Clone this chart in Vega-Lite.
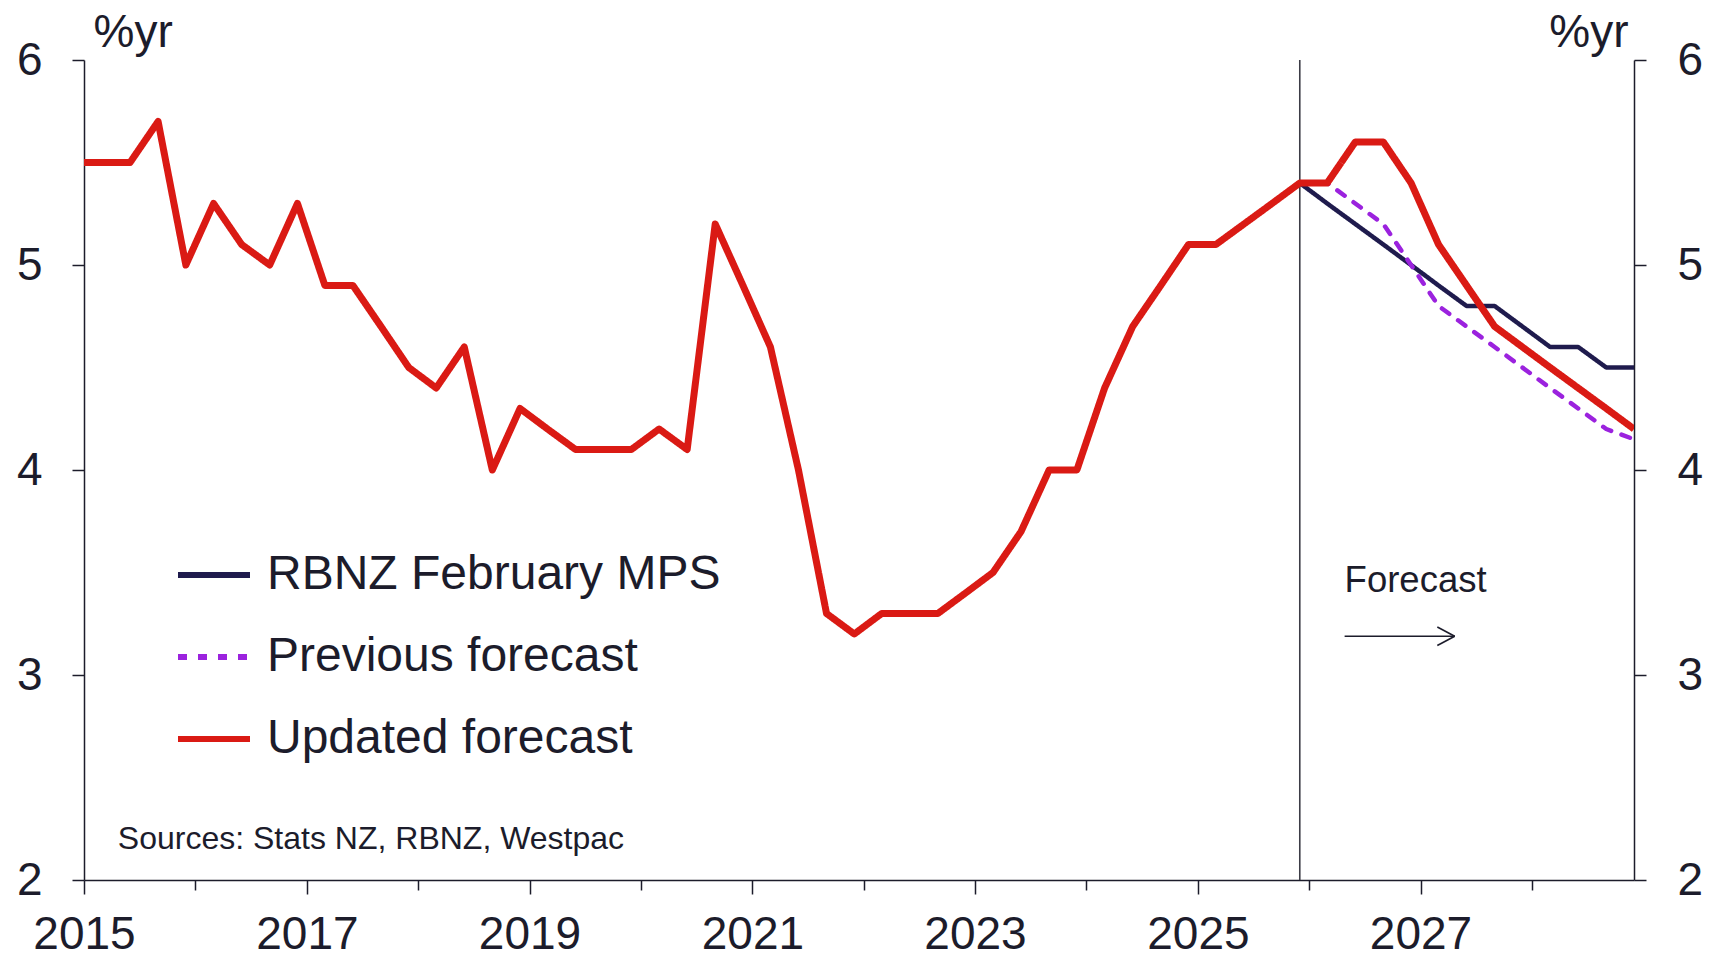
{
  "$schema": "https://vega.github.io/schema/vega-lite/v6.json",
  "autosize": {"type": "none"},
  "width": 1550,
  "height": 820,
  "padding": {"left": 84, "top": 60, "right": 77, "bottom": 78},
  "background": "white",
  "config": {
    "view": {"stroke": null},
    "font": "Liberation Sans",
    "axis": {
      "grid": false,
      "domainColor": "#1c1c2b",
      "domainWidth": 1.5,
      "tickColor": "#1c1c2b",
      "tickWidth": 1.5,
      "labelColor": "#1c1c2b",
      "labelFont": "Liberation Sans",
      "labelFontSize": 46,
      "titleColor": "#1c1c2b",
      "titleFont": "Liberation Sans",
      "titleFontSize": 46,
      "titleFontWeight": "normal"
    },
    "legend": {
      "labelFont": "Liberation Sans",
      "labelFontSize": 48,
      "labelColor": "#1c1c2b",
      "labelLimit": 800
    }
  },
  "datasets": {
    "rates": [
      {"date": "2014-12-01", "series": "Updated forecast", "value": 5.5},
      {"date": "2015-03-01", "series": "Updated forecast", "value": 5.5},
      {"date": "2015-06-01", "series": "Updated forecast", "value": 5.5},
      {"date": "2015-09-01", "series": "Updated forecast", "value": 5.7},
      {"date": "2015-12-01", "series": "Updated forecast", "value": 5.0},
      {"date": "2016-03-01", "series": "Updated forecast", "value": 5.3},
      {"date": "2016-06-01", "series": "Updated forecast", "value": 5.1},
      {"date": "2016-09-01", "series": "Updated forecast", "value": 5.0},
      {"date": "2016-12-01", "series": "Updated forecast", "value": 5.3},
      {"date": "2017-03-01", "series": "Updated forecast", "value": 4.9},
      {"date": "2017-06-01", "series": "Updated forecast", "value": 4.9},
      {"date": "2017-09-01", "series": "Updated forecast", "value": 4.7},
      {"date": "2017-12-01", "series": "Updated forecast", "value": 4.5},
      {"date": "2018-03-01", "series": "Updated forecast", "value": 4.4},
      {"date": "2018-06-01", "series": "Updated forecast", "value": 4.6},
      {"date": "2018-09-01", "series": "Updated forecast", "value": 4.0},
      {"date": "2018-12-01", "series": "Updated forecast", "value": 4.3},
      {"date": "2019-03-01", "series": "Updated forecast", "value": 4.2},
      {"date": "2019-06-01", "series": "Updated forecast", "value": 4.1},
      {"date": "2019-09-01", "series": "Updated forecast", "value": 4.1},
      {"date": "2019-12-01", "series": "Updated forecast", "value": 4.1},
      {"date": "2020-03-01", "series": "Updated forecast", "value": 4.2},
      {"date": "2020-06-01", "series": "Updated forecast", "value": 4.1},
      {"date": "2020-09-01", "series": "Updated forecast", "value": 5.2},
      {"date": "2020-12-01", "series": "Updated forecast", "value": 4.9},
      {"date": "2021-03-01", "series": "Updated forecast", "value": 4.6},
      {"date": "2021-06-01", "series": "Updated forecast", "value": 4.0},
      {"date": "2021-09-01", "series": "Updated forecast", "value": 3.3},
      {"date": "2021-12-01", "series": "Updated forecast", "value": 3.2},
      {"date": "2022-03-01", "series": "Updated forecast", "value": 3.3},
      {"date": "2022-06-01", "series": "Updated forecast", "value": 3.3},
      {"date": "2022-09-01", "series": "Updated forecast", "value": 3.3},
      {"date": "2022-12-01", "series": "Updated forecast", "value": 3.4},
      {"date": "2023-03-01", "series": "Updated forecast", "value": 3.5},
      {"date": "2023-06-01", "series": "Updated forecast", "value": 3.7},
      {"date": "2023-09-01", "series": "Updated forecast", "value": 4.0},
      {"date": "2023-12-01", "series": "Updated forecast", "value": 4.0},
      {"date": "2024-03-01", "series": "Updated forecast", "value": 4.4},
      {"date": "2024-06-01", "series": "Updated forecast", "value": 4.7},
      {"date": "2024-09-01", "series": "Updated forecast", "value": 4.9},
      {"date": "2024-12-01", "series": "Updated forecast", "value": 5.1},
      {"date": "2025-03-01", "series": "Updated forecast", "value": 5.1},
      {"date": "2025-06-01", "series": "Updated forecast", "value": 5.2},
      {"date": "2025-09-01", "series": "Updated forecast", "value": 5.3},
      {"date": "2025-12-01", "series": "Updated forecast", "value": 5.4},
      {"date": "2026-03-01", "series": "Updated forecast", "value": 5.4},
      {"date": "2026-06-01", "series": "Updated forecast", "value": 5.6},
      {"date": "2026-09-01", "series": "Updated forecast", "value": 5.6},
      {"date": "2026-12-01", "series": "Updated forecast", "value": 5.4},
      {"date": "2027-03-01", "series": "Updated forecast", "value": 5.1},
      {"date": "2027-06-01", "series": "Updated forecast", "value": 4.9},
      {"date": "2027-09-01", "series": "Updated forecast", "value": 4.7},
      {"date": "2027-12-01", "series": "Updated forecast", "value": 4.6},
      {"date": "2028-03-01", "series": "Updated forecast", "value": 4.5},
      {"date": "2028-06-01", "series": "Updated forecast", "value": 4.4},
      {"date": "2028-09-01", "series": "Updated forecast", "value": 4.3},
      {"date": "2028-12-01", "series": "Updated forecast", "value": 4.2},

      {"date": "2025-12-01", "series": "RBNZ February MPS", "value": 5.4},
      {"date": "2026-03-01", "series": "RBNZ February MPS", "value": 5.3},
      {"date": "2026-06-01", "series": "RBNZ February MPS", "value": 5.2},
      {"date": "2026-09-01", "series": "RBNZ February MPS", "value": 5.1},
      {"date": "2026-12-01", "series": "RBNZ February MPS", "value": 5.0},
      {"date": "2027-03-01", "series": "RBNZ February MPS", "value": 4.9},
      {"date": "2027-06-01", "series": "RBNZ February MPS", "value": 4.8},
      {"date": "2027-09-01", "series": "RBNZ February MPS", "value": 4.8},
      {"date": "2027-12-01", "series": "RBNZ February MPS", "value": 4.7},
      {"date": "2028-03-01", "series": "RBNZ February MPS", "value": 4.6},
      {"date": "2028-06-01", "series": "RBNZ February MPS", "value": 4.6},
      {"date": "2028-09-01", "series": "RBNZ February MPS", "value": 4.5},
      {"date": "2028-12-01", "series": "RBNZ February MPS", "value": 4.5},

      {"date": "2025-12-01", "series": "Previous forecast", "value": 5.4},
      {"date": "2026-03-01", "series": "Previous forecast", "value": 5.4},
      {"date": "2026-06-01", "series": "Previous forecast", "value": 5.3},
      {"date": "2026-09-01", "series": "Previous forecast", "value": 5.2},
      {"date": "2026-12-01", "series": "Previous forecast", "value": 5.0},
      {"date": "2027-03-01", "series": "Previous forecast", "value": 4.8},
      {"date": "2027-06-01", "series": "Previous forecast", "value": 4.7},
      {"date": "2027-09-01", "series": "Previous forecast", "value": 4.6},
      {"date": "2027-12-01", "series": "Previous forecast", "value": 4.5},
      {"date": "2028-03-01", "series": "Previous forecast", "value": 4.4},
      {"date": "2028-06-01", "series": "Previous forecast", "value": 4.3},
      {"date": "2028-09-01", "series": "Previous forecast", "value": 4.2},
      {"date": "2028-12-01", "series": "Previous forecast", "value": 4.15}
    ],
    "single": [{}]
  },
  "data": {"name": "rates"},
  "resolve": {"axis": {"y": "independent"}},
  "layer": [
    {
      "description": "Boundary between history and forecast",
      "data": {"name": "single"},
      "mark": {"type": "rule", "color": "#3c3c46", "strokeWidth": 1.6},
      "encoding": {
        "x": {"datum": {"year": 2025, "month": 12, "date": 1, "utc": true}, "type": "temporal"}
      }
    },
    {
      "transform": [{"filter": "datum.series === 'RBNZ February MPS'"}],
      "mark": {"type": "line", "strokeJoin": "round", "strokeWidth": 4.5, "clip": true},
      "encoding": {
        "x": {
          "field": "date", "type": "temporal",
          "scale": {
            "type": "utc",
            "domain": [
              {"year": 2015, "month": 1, "date": 1, "utc": true},
              {"year": 2028, "month": 12, "date": 1, "utc": true}
            ]
          },
          "axis": {
            "title": null,
            "values": [
              {"year": 2015, "month": 1, "date": 1, "utc": true},
              {"year": 2016, "month": 1, "date": 1, "utc": true},
              {"year": 2017, "month": 1, "date": 1, "utc": true},
              {"year": 2018, "month": 1, "date": 1, "utc": true},
              {"year": 2019, "month": 1, "date": 1, "utc": true},
              {"year": 2020, "month": 1, "date": 1, "utc": true},
              {"year": 2021, "month": 1, "date": 1, "utc": true},
              {"year": 2022, "month": 1, "date": 1, "utc": true},
              {"year": 2023, "month": 1, "date": 1, "utc": true},
              {"year": 2024, "month": 1, "date": 1, "utc": true},
              {"year": 2025, "month": 1, "date": 1, "utc": true},
              {"year": 2026, "month": 1, "date": 1, "utc": true},
              {"year": 2027, "month": 1, "date": 1, "utc": true},
              {"year": 2028, "month": 1, "date": 1, "utc": true}
            ],
            "format": "%Y",
            "labelExpr": "utcyear(datum.value) % 2 == 1 ? utcyear(datum.value) + '' : ''",
            "tickSize": {"condition": {"test": "utcyear(datum.value) % 2 == 1", "value": 14}, "value": 10},
            "labelFontSize": 46,
            "labelPadding": 18,
            "labelFlush": false,
            "labelOverlap": false
          }
        },
        "y": {
          "field": "value", "type": "quantitative",
          "scale": {"domain": [2, 6], "nice": false, "zero": false},
          "axis": {
            "orient": "left",
            "values": [2, 3, 4, 5, 6],
            "tickSize": 12,
            "labelPadding": 30,
            "title": "%yr",
            "titleAngle": 0,
            "titleX": 9,
            "titleY": -14,
            "titleAlign": "left",
            "titleBaseline": "alphabetic"
          }
        },
        "color": {
          "field": "series", "type": "nominal",
          "scale": {
            "domain": ["RBNZ February MPS", "Previous forecast", "Updated forecast"],
            "range": ["#1f1b4d", "#9b22de", "#da1a14"]
          },
          "legend": {
            "title": null,
            "orient": "none",
            "legendX": 91,
            "legendY": 476,
            "symbolType": "stroke",
            "symbolSize": 5184,
            "symbolStrokeWidth": 6,
            "labelOffset": 14,
            "rowPadding": 19,
            "padding": 0
          }
        },
        "strokeDash": {
          "field": "series", "type": "nominal",
          "scale": {
            "domain": ["RBNZ February MPS", "Previous forecast", "Updated forecast"],
            "range": [[1, 0], [9, 11], [1, 0]]
          },
          "legend": {"title": null}
        }
      }
    },
    {
      "transform": [{"filter": "datum.series === 'Previous forecast'"}],
      "mark": {"type": "line", "strokeJoin": "round", "strokeCap": "round", "strokeWidth": 4.5, "clip": true},
      "encoding": {
        "x": {"field": "date", "type": "temporal"},
        "y": {
          "field": "value", "type": "quantitative",
          "axis": {
            "orient": "right",
            "values": [2, 3, 4, 5, 6],
            "tickSize": 12,
            "labelPadding": 31,
            "title": "%yr",
            "titleAngle": 0,
            "titleX": -6,
            "titleY": -14,
            "titleAlign": "right",
            "titleBaseline": "alphabetic"
          }
        },
        "color": {"field": "series", "type": "nominal"},
        "strokeDash": {"field": "series", "type": "nominal"}
      }
    },
    {
      "transform": [{"filter": "datum.series === 'Updated forecast'"}],
      "mark": {"type": "line", "strokeJoin": "round", "strokeWidth": 7, "clip": true},
      "encoding": {
        "x": {"field": "date", "type": "temporal"},
        "y": {"field": "value", "type": "quantitative", "axis": null},
        "color": {"field": "series", "type": "nominal"},
        "strokeDash": {"field": "series", "type": "nominal"}
      }
    },
    {
      "description": "Forecast annotation",
      "data": {"name": "single"},
      "mark": {"type": "text", "text": "Forecast", "align": "left", "baseline": "alphabetic", "fontSize": 36.5, "fill": "#1c1c2b", "font": "Liberation Sans"},
      "encoding": {
        "x": {"datum": {"year": 2026, "month": 4, "date": 27, "utc": true}, "type": "temporal"},
        "y": {"datum": 3.405, "type": "quantitative", "axis": null}
      }
    },
    {
      "description": "Forecast arrow shaft",
      "data": {"name": "single"},
      "mark": {"type": "rule", "color": "#1c1c2b", "strokeWidth": 1.6},
      "encoding": {
        "x": {"datum": {"year": 2026, "month": 4, "date": 27, "utc": true}, "type": "temporal"},
        "x2": {"datum": {"year": 2027, "month": 4, "date": 23, "utc": true}},
        "y": {"datum": 3.189, "type": "quantitative", "axis": null}
      }
    },
    {
      "description": "Forecast arrow head, upper stroke",
      "data": {"name": "single"},
      "mark": {"type": "rule", "color": "#1c1c2b", "strokeWidth": 1.6},
      "encoding": {
        "x": {"datum": {"year": 2027, "month": 2, "date": 25, "utc": true}, "type": "temporal"},
        "x2": {"datum": {"year": 2027, "month": 4, "date": 23, "utc": true}},
        "y": {"datum": 3.234, "type": "quantitative", "axis": null},
        "y2": {"datum": 3.189}
      }
    },
    {
      "description": "Forecast arrow head, lower stroke",
      "data": {"name": "single"},
      "mark": {"type": "rule", "color": "#1c1c2b", "strokeWidth": 1.6},
      "encoding": {
        "x": {"datum": {"year": 2027, "month": 2, "date": 25, "utc": true}, "type": "temporal"},
        "x2": {"datum": {"year": 2027, "month": 4, "date": 23, "utc": true}},
        "y": {"datum": 3.144, "type": "quantitative", "axis": null},
        "y2": {"datum": 3.189}
      }
    },
    {
      "description": "Source note",
      "data": {"name": "single"},
      "mark": {"type": "text", "text": "Sources: Stats NZ, RBNZ, Westpac", "align": "left", "baseline": "alphabetic", "fontSize": 32, "fill": "#1c1c2b", "font": "Liberation Sans"},
      "encoding": {
        "x": {"datum": {"year": 2015, "month": 4, "date": 22, "utc": true}, "type": "temporal"},
        "y": {"datum": 2.153, "type": "quantitative", "axis": null}
      }
    }
  ]
}
